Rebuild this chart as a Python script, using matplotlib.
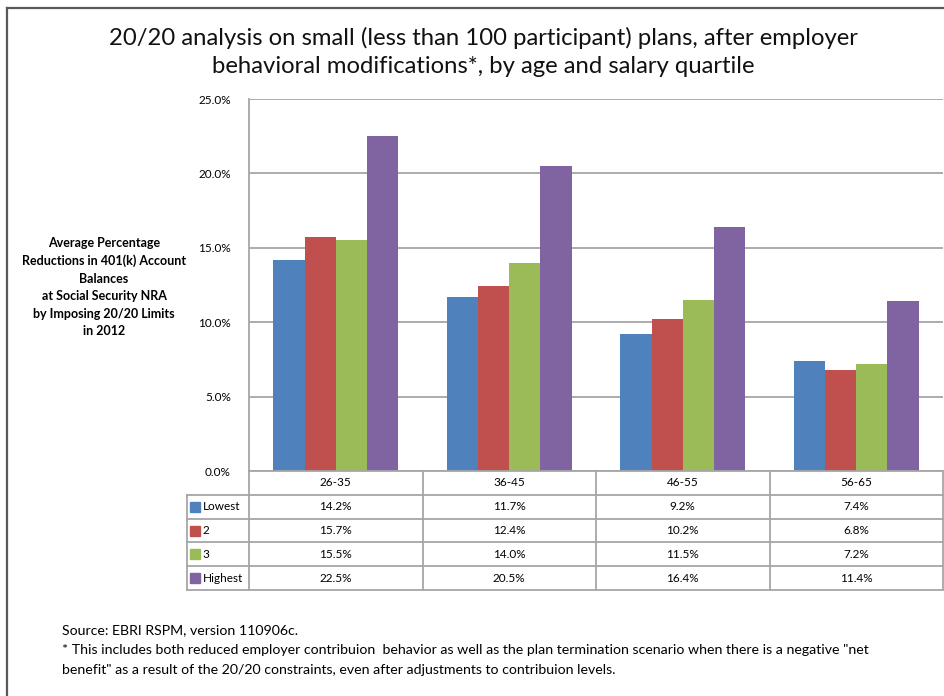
import numpy as np
import matplotlib.pyplot as plt
from matplotlib.lines import Line2D

plt.rcParams['font.family'] = ['Lato', 'DejaVu Sans']

ages = ['26-35', '36-45', '46-55', '56-65']
quartiles = ['Lowest', '2', '3', 'Highest']
lowest = [14.2, 11.7, 9.2, 7.4]
q2 = [15.7, 12.4, 10.2, 6.8]
q3 = [15.5, 14.0, 11.5, 7.2]
highest = [22.5, 20.5, 16.4, 11.4]
series = [lowest, q2, q3, highest]
colors = ['#4F81BD', '#C0504D', '#9BBB59', '#8064A2']
yticks = [0, 5, 10, 15, 20, 25]

W, H = 945, 696
fig = plt.figure(figsize=(W / 100, H / 100), dpi=100)


def px(x0, y0, x1, y1):
    # pixel box -> figure fraction rect
    return [x0 / W, 1 - y1 / H, (x1 - x0) / W, (y1 - y0) / H]


grid_c = '#a6a6a6'

# --- bar chart ---
ax = fig.add_axes(px(249, 99, 943, 471))
bw = 0.18
x = np.arange(len(ages))
for i, (vals, c) in enumerate(zip(series, colors)):
    ax.bar(x + (i - 1.5) * bw, vals, width=bw, color=c, zorder=3)
ax.set_xlim(-0.5, 3.5)
ax.set_ylim(0, 25)
ax.set_yticks(yticks)
ax.set_yticklabels([f'{v:.1f}%' for v in yticks], fontsize=8.5)
ax.set_xticks([])
ax.tick_params(axis='y', length=0, pad=13)
ax.grid(axis='y', color=grid_c, lw=1.3, zorder=0)
for s in ['top', 'right', 'bottom']:
    ax.spines[s].set_visible(False)
ax.spines['left'].set_color(grid_c)
ax.spines['left'].set_linewidth(1.3)

# --- data table under the bars ---
unit_px = (943 - 249) / 4
xl = -0.5 - (249 - 187) / unit_px
tab = fig.add_axes(px(187, 471, 943, 590))
tab.set_xlim(xl, 3.5)
tab.set_ylim(5, 0)
tab.axis('off')
kw = dict(color=grid_c, lw=1.3, clip_on=False)
tab.plot([-0.5, 3.5], [0, 0], **kw)
for r in range(1, 6):
    tab.plot([xl, 3.5], [r, r], **kw)
for xv in [-0.5, 0.5, 1.5, 2.5, 3.5]:
    tab.plot([xv, xv], [0, 5], **kw)
tab.plot([xl, xl], [1, 5], **kw)

for i, a in enumerate(ages):
    tab.text(i, 0.5, a, ha='center', va='center', fontsize=8.5)
for r, (q, vals, c) in enumerate(zip(quartiles, series, colors)):
    yc = r + 1.5
    tab.plot(xl + 0.045, yc, marker='s', ms=7, color=c, clip_on=False)
    tab.text(xl + 0.09, yc, q, ha='left', va='center', fontsize=8.5)
    for i, v in enumerate(vals):
        tab.text(i, yc, f'{v:.1f}%', ha='center', va='center', fontsize=8.5)

# --- texts ---
fig.text(483 / W, 1 - 52 / H,
         '20/20 analysis on small (less than 100 participant) plans, after employer\n'
         'behavioral modifications*, by age and salary quartile',
         ha='center', va='center', fontsize=17.2, linespacing=1.45, color='#111111')

fig.text(104 / W, 1 - 287 / H,
         'Average Percentage\nReductions in 401(k) Account\nBalances\n'
         'at Social Security NRA\nby Imposing 20/20 Limits\nin 2012',
         ha='center', va='center', fontsize=9, fontweight='bold', linespacing=1.55)

foot = ['Source: EBRI RSPM, version 110906c.',
        '* This includes both reduced employer contribuion  behavior as well as the plan '
        'termination scenario when there is a negative "net',
        'benefit" as a result of the 20/20 constraints, even after adjustments to contribuion levels.']
for k, line in enumerate(foot):
    fig.text(62 / W, 1 - (630 + 20 * k) / H, line, ha='left', va='center', fontsize=10.2)

# outer frame (clipped on right and bottom like the screenshot)
bc = '#595959'
fig.add_artist(Line2D([7 / W, 1], [1 - 8 / H, 1 - 8 / H], color=bc, lw=1.6))
fig.add_artist(Line2D([7 / W, 7 / W], [0, 1 - 8 / H], color=bc, lw=1.6))

fig.savefig('out.png', dpi=100)
